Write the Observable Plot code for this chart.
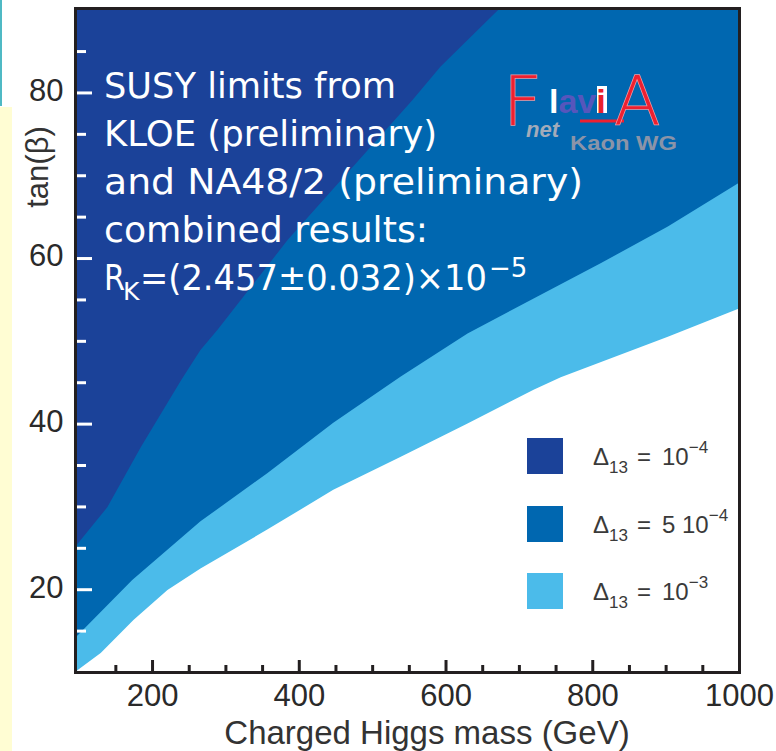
<!DOCTYPE html>
<html><head><meta charset="utf-8">
<script src="https://cdn.jsdelivr.net/npm/d3@7"></script>
<script src="https://cdn.jsdelivr.net/npm/@observablehq/plot@0.6"></script>
<style>body{margin:0;background:#fff;} #chart{width:776px;height:751px;overflow:hidden}</style>
</head><body><div id="chart"></div>
<script>
// ---- data ----
const massDomain = [95, 1000];
const tanDomain = [10, 90.2];
// lower edge of the region excluded for Δ13 = 10^-4
const darkMass = [95, 139, 185, 240, 266, 289, 385, 555, 593, 672, 1000];
const darkTan  = [25.1, 29.9, 37.2, 45.3, 48.9, 51.3, 62.2, 79.1, 83.1, 90.0, 90.2];
// lower edge of the region excluded for Δ13 = 5·10^-4
const medMass = [95, 173, 266, 357, 447, 539, 630, 812, 903, 1000];
const medTan  = [14.1, 21.1, 28.2, 34.0, 40.1, 45.7, 50.9, 59.4, 63.8, 69.1];
// lower edge of the region excluded for Δ13 = 10^-3
const lightMass = [95, 130, 175, 221, 266, 357, 447, 539, 630, 720, 757, 903, 1000];
const lightTan  = [10, 12.3, 16.3, 19.9, 22.5, 27.2, 32.0, 36.0, 40.0, 44.1, 45.6, 50.5, 53.9];

const xMajor = [200, 400, 600, 800, 1000];
const xMinor = [150, 250, 300, 350, 450, 500, 550, 650, 700, 750, 850, 900, 950];
const yMajor = [20, 40, 60, 80];
const yMinor = [15, 25, 30, 35, 45, 50, 55, 65, 70, 75, 85];

const legendColors = ["#1b4299", "#0067b0", "#4bbbea"];
const legendMant = ["10", "5 10", "10"];
const legendExp = ["−4", "−4", "−3"];

const annotLines = ["SUSY limits from", "KLOE (preliminary)", "and NA48/2 (preliminary)", "combined results:"];
const rkParts = ["R", "K", "=(2.457±0.032)×10", "−5"];

const xTitle = "Charged Higgs mass (GeV)";
const yTitle = "tan(β)";

// ---- build ----
const rows = (ms, ts) => ms.map((m, i) => ({m, t: ts[i]}));
const ink = "#231f20";
const lab = "#2a2a2a";
const fmt = d => String(d);

const plot = Plot.plot({
  width: 776, height: 751,
  marginLeft: 75, marginRight: 37, marginTop: 8, marginBottom: 79,
  x: {domain: massDomain},
  y: {domain: tanDomain},
  style: {fontFamily: "'Liberation Sans', Arial, sans-serif", background: "transparent", overflow: "visible"},
  marks: [
    Plot.frame({fill: legendColors[0], stroke: null}),
    Plot.areaY(rows(darkMass, darkTan), {x: "m", y1: tanDomain[0], y2: "t", fill: legendColors[1]}),
    Plot.areaY(rows(medMass, medTan), {x: "m", y1: tanDomain[0], y2: "t", fill: legendColors[2]}),
    Plot.areaY(rows(lightMass, lightTan), {x: "m", y1: tanDomain[0], y2: "t", fill: "white"}),
    Plot.axisX(xMajor, {tickSize: -12, stroke: ink, strokeWidth: 3, fill: "none", label: null}),
    Plot.axisX(xMinor, {tickSize: -7, stroke: ink, strokeWidth: 3, fill: "none", label: null}),
    Plot.axisX(xMajor, {tickSize: 0, tickPadding: 11, fontSize: 31, fill: lab, label: null, tickFormat: fmt}),
    Plot.axisY(yMajor, {tickSize: -17, stroke: "white", strokeWidth: 3, fill: "none", label: null}),
    Plot.axisY(yMinor, {tickSize: -11, stroke: "white", strokeWidth: 3, fill: "none", label: null}),
    Plot.axisY(yMajor, {tickSize: 0, tickPadding: 12, fontSize: 31, fill: lab, label: null, dy: -2, tickFormat: fmt}),
    Plot.frame({stroke: ink, strokeWidth: 3})
  ]
});

const svg = d3.select(plot);
// slide decorations on the far left
svg.insert("rect", ":first-child").attr("x", 0).attr("y", 107).attr("width", 12).attr("height", 644).attr("fill", "#fffdd3");
svg.insert("rect", ":first-child").attr("x", 0).attr("y", 0).attr("width", 2).attr("height", 106).attr("fill", "#4fb9c4");

// axis titles
svg.append("text").attr("x", 427).attr("y", 744).attr("text-anchor", "middle")
  .attr("font-family", "'Liberation Sans', Arial, sans-serif").attr("font-size", 33).attr("fill", "#333").text(xTitle);
svg.append("text").attr("transform", "translate(48,167) rotate(-90)").attr("text-anchor", "middle")
  .attr("font-family", "'Liberation Sans', Arial, sans-serif").attr("font-size", 31).attr("fill", "#333").text(yTitle);

// annotation (widths matched to the slide's Tahoma lines)
const ann = svg.append("g").attr("text-anchor", "start").attr("font-family", "'DejaVu Sans', Verdana, sans-serif").attr("font-size", 36).attr("fill", "white");
const annWidths = [292, 333, 479, 324];
annotLines.forEach((s, i) => ann.append("text").attr("x", 104).attr("y", 98 + i * 48)
  .attr("textLength", annWidths[i]).attr("lengthAdjust", "spacingAndGlyphs").text(s));
ann.append("text").attr("x", 104).attr("y", 290).attr("textLength", 21).attr("lengthAdjust", "spacingAndGlyphs").text(rkParts[0]);
ann.append("text").attr("x", 123).attr("y", 300).attr("font-size", 25).text(rkParts[1]);
ann.append("text").attr("x", 140).attr("y", 290).attr("textLength", 347).attr("lengthAdjust", "spacingAndGlyphs").text(rkParts[2]);
ann.append("text").attr("x", 489).attr("y", 277).attr("font-size", 26).text(rkParts[3]);

// logo
const logo = svg.append("g").attr("text-anchor", "start").attr("font-family", "'Liberation Sans', Arial, sans-serif");
logo.append("text").attr("x", 503).attr("y", 125).attr("font-family", "'DejaVu Sans', sans-serif").attr("font-weight", 200)
  .attr("font-size", 68).attr("fill", "#ee2030").attr("stroke", "#f59aa2").attr("stroke-width", 1.5).attr("paint-order", "stroke").text("F");
logo.append("rect").attr("x", 597).attr("y", 86).attr("width", 10).attr("height", 27).attr("fill", "white");
const lv = logo.append("text").attr("x", 549).attr("y", 113).attr("font-size", 34).attr("font-weight", "bold");
lv.append("tspan").attr("fill", "white").text("l");
lv.append("tspan").attr("fill", "#5656bc").text("av");
lv.append("tspan").attr("fill", "#e8202e").text("i");
logo.append("line").attr("x1", 580).attr("x2", 624).attr("y1", 121).attr("y2", 121).attr("stroke", "#ee2030").attr("stroke-width", 3);
logo.append("text").attr("x", 614).attr("y", 125).attr("font-family", "'DejaVu Sans', sans-serif").attr("font-weight", 200)
  .attr("font-size", 68).attr("fill", "#ee2030").attr("stroke", "#f59aa2").attr("stroke-width", 1.5).attr("paint-order", "stroke").text("A");
logo.append("text").attr("x", 526).attr("y", 137).attr("font-size", 22).attr("font-style", "italic").attr("font-weight", "bold")
  .attr("fill", "#a3abba").text("net");
logo.append("text").attr("x", 570).attr("y", 150).attr("font-size", 20).attr("font-weight", "bold")
  .attr("textLength", 107).attr("lengthAdjust", "spacingAndGlyphs").attr("fill", "#8a94a8").text("Kaon WG");

// legend
const leg = svg.append("g").attr("text-anchor", "start").attr("font-family", "'Liberation Sans', Arial, sans-serif").attr("fill", "#3a3a3a");
const legY = [438, 506, 573];
legendColors.forEach((c, i) => {
  leg.append("rect").attr("x", 527).attr("y", legY[i]).attr("width", 36).attr("height", 36).attr("fill", c);
  const t = leg.append("text").attr("y", legY[i] + 27).attr("font-size", 24);
  t.append("tspan").attr("x", 593).text("Δ");
  t.append("tspan").attr("font-size", 17).attr("dy", 8).text("13");
  t.append("tspan").attr("x", 637).attr("dy", -8).text("=");
  t.append("tspan").attr("x", 662).text(legendMant[i]);
  t.append("tspan").attr("font-size", 17).attr("dy", -12).text(legendExp[i]);
});

document.getElementById("chart").appendChild(plot);
</script>
</body></html>
